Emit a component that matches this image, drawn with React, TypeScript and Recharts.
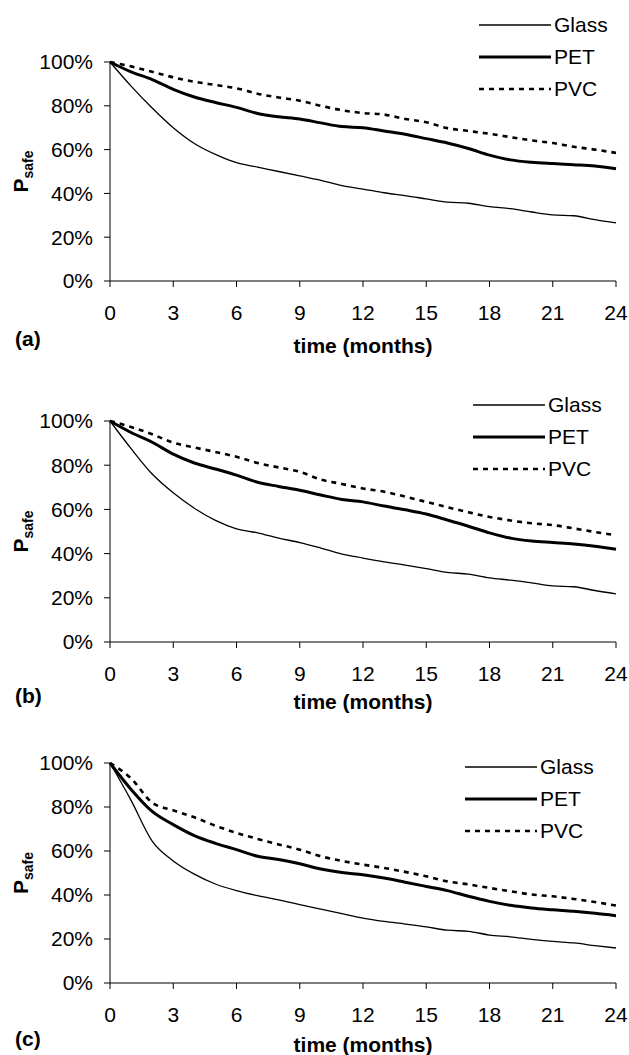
import React from "react";
import { LineChart, Line, XAxis, YAxis, Legend } from "recharts";

const months = [0, 1, 2, 3, 4, 5, 6, 7, 8, 9, 10, 11, 12, 13, 14, 15, 16, 17, 18, 19, 20, 21, 22, 23, 24];
const monthTicks = [0, 3, 6, 9, 12, 15, 18, 21, 24];
const pctTicks = [0, 20, 40, 60, 80, 100];

// (a)
const glassA = [100, 89, 79, 70, 62.8, 57.8, 54, 52, 50, 48, 46, 43.5, 42, 40.3, 39, 37.5, 36, 35.5, 34, 33, 31.5, 30.2, 29.8, 28, 26.5];
const petA = [100, 95.5, 92, 87.5, 84, 81.5, 79.3, 76.5, 75, 74, 72.2, 70.5, 70, 68.5, 67, 65, 63, 60.5, 57.5, 55.3, 54.2, 53.6, 53.1, 52.5, 51.3];
const pvcA = [100, 98, 95.5, 93, 91, 89.5, 88, 85.5, 83.8, 82.3, 80, 78, 76.7, 76, 74, 72.5, 69.8, 68.5, 67.2, 65.7, 64.2, 63, 61.3, 60, 58.5];

// (b)
const glassB = [100, 87.5, 76, 67.5, 60.5, 55, 51.2, 49.4, 47, 45, 42.5, 39.8, 38, 36.3, 34.8, 33.2, 31.5, 30.7, 29, 28, 26.8, 25.4, 25, 23.3, 21.8];
const petB = [100, 94.8, 90.4, 85, 81, 78.3, 75.5, 72.3, 70.4, 68.7, 66.5, 64.5, 63.4, 61.5, 59.8, 57.9, 55.2, 52.4, 49.4, 47, 45.7, 45, 44.3, 43.3, 42];
const pvcB = [100, 97.3, 94, 90.2, 88, 86, 83.8, 81, 79, 77, 73.5, 71.5, 69.5, 68, 65.8, 63.4, 61, 58.7, 56.6, 55, 53.7, 52.9, 51.4, 49.8, 48.3];

// (c)
const glassC = [100, 83, 64.5, 55.5, 49.5, 45, 42, 39.7, 37.8, 35.6, 33.6, 31.5, 29.5, 28, 26.8, 25.5, 24, 23.5, 21.8, 21, 19.8, 18.9, 18.2, 17, 15.9];
const petC = [100, 88, 78, 72, 67, 63.5, 60.6, 57.6, 56.1, 54.2, 51.8, 50.2, 49.2, 47.7, 45.8, 43.9, 42, 39.4, 37.1, 35.3, 34.1, 33.3, 32.6, 31.7, 30.6];
const pvcC = [100, 93, 82, 78.5, 75.3, 71.5, 68.2, 65.5, 63, 60.6, 57.6, 55.5, 53.8, 52.3, 50.5, 48.5, 46.2, 44.8, 43.2, 41.7, 40.2, 39.4, 38.2, 36.8, 35.2];

const FONT = '"Liberation Sans", Arial, Helvetica, sans-serif';

const seriesStyle = [
  { key: "glass", name: "Glass", width: 1.3, dash: undefined },
  { key: "pet", name: "PET", width: 3, dash: undefined },
  { key: "pvc", name: "PVC", width: 2.6, dash: "5 5" },
];

function renderLegend() {
  return (
    <div style={{ fontFamily: FONT, fontSize: 21, color: "#000" }}>
      {seriesStyle.map((s) => (
        <div key={s.key} style={{ display: "flex", alignItems: "center", height: 32 }}>
          <svg width={72} height={8} style={{ display: "block" }}>
            <line x1={0} y1={4} x2={72} y2={4} stroke="#000" strokeWidth={s.width} strokeDasharray={s.dash} />
          </svg>
          <span style={{ marginLeft: 3, lineHeight: "32px" }}>{s.name}</span>
        </div>
      ))}
    </div>
  );
}

interface PanelProps {
  tag: string;
  top: number;
  height: number;
  plotTop: number;
  plotBottom: number;
  glass: number[];
  pet: number[];
  pvc: number[];
  legendTop: number;
  legendLeft: number;
  tagDy: number;
  timeDy: number;
}

function Panel(p: PanelProps) {
  const data = months.map((m, i) => ({ m, glass: p.glass[i], pet: p.pet[i], pvc: p.pvc[i] }));
  const axisH = 60;
  const margin = {
    top: p.plotTop - p.top,
    right: 13,
    left: 0,
    bottom: p.height - (p.plotBottom - p.top) - axisH,
  };

  const xLabel = (props: any) => {
    const vb = props.viewBox || {};
    const y0 = vb.y ?? p.plotBottom - p.top;
    return (
      <g fontFamily={FONT} fontWeight="bold" fontSize={21} fill="#000">
        <text x={363} y={y0 + p.timeDy} textAnchor="middle">time (months)</text>
        <text x={15} y={y0 + p.tagDy}>{p.tag}</text>
      </g>
    );
  };

  const yLabel = (props: any) => {
    const vb = props.viewBox || {};
    const cy = (vb.y ?? margin.top) + (vb.height ?? 0) / 2;
    return (
      <text
        x={28}
        y={cy}
        transform={`rotate(-90 28 ${cy})`}
        textAnchor="middle"
        fontFamily={FONT}
        fontWeight="bold"
        fill="#000"
      >
        <tspan fontSize={21}>P</tspan>
        <tspan fontSize={14} dy={5}>safe</tspan>
      </text>
    );
  };

  return (
    <div style={{ position: "absolute", left: 0, top: p.top }}>
      <LineChart width={629} height={p.height} data={data} margin={margin}>
        <XAxis
          dataKey="m"
          type="number"
          domain={[0, 24]}
          ticks={monthTicks}
          height={axisH}
          axisLine={{ stroke: "#000", strokeWidth: 1 }}
          tickLine={{ stroke: "#000", strokeWidth: 1 }}
          tickSize={6}
          tickMargin={18}
          tick={{ fill: "#000", fontSize: 21, fontFamily: FONT }}
          label={{ value: "time (months)", content: xLabel }}
        />
        <YAxis
          type="number"
          domain={[0, 100]}
          ticks={pctTicks}
          width={110}
          tickFormatter={(v: number) => `${v}%`}
          axisLine={{ stroke: "#000", strokeWidth: 1 }}
          tickLine={{ stroke: "#000", strokeWidth: 1 }}
          tickSize={6}
          tickMargin={11}
          tick={{ fill: "#000", fontSize: 21, fontFamily: FONT }}
          label={{ value: "Psafe", content: yLabel }}
        />
        <Legend
          layout="horizontal"
          verticalAlign="middle"
          align="center"
          content={renderLegend}
          wrapperStyle={{ top: p.legendTop, left: p.legendLeft, width: 160, height: 96 }}
        />
        <Line type="monotone" dataKey="pvc" name="PVC" stroke="#000" strokeWidth={2.6} strokeDasharray="5 5" dot={false} isAnimationActive={false} />
        <Line type="monotone" dataKey="pet" name="PET" stroke="#000" strokeWidth={3} dot={false} isAnimationActive={false} />
        <Line type="monotone" dataKey="glass" name="Glass" stroke="#000" strokeWidth={1.3} dot={false} isAnimationActive={false} />
      </LineChart>
    </div>
  );
}

export default function App() {
  return (
    <div style={{ position: "absolute", left: 0, top: 0, width: 629, height: 1055, background: "#fff", fontFamily: FONT }}>
      <Panel tag="(a)" top={0} height={360} plotTop={62} plotBottom={281} glass={glassA} pet={petA} pvc={pvcA}
        legendTop={9} legendLeft={479} tagDy={65} timeDy={72} />
      <Panel tag="(b)" top={360} height={355} plotTop={421} plotBottom={642} glass={glassB} pet={petB} pvc={pvcB}
        legendTop={29} legendLeft={473} tagDy={61} timeDy={67} />
      <Panel tag="(c)" top={715} height={340} plotTop={763} plotBottom={983} glass={glassC} pet={petC} pvc={pvcC}
        legendTop={36} legendLeft={465} tagDy={63} timeDy={69} />
    </div>
  );
}
